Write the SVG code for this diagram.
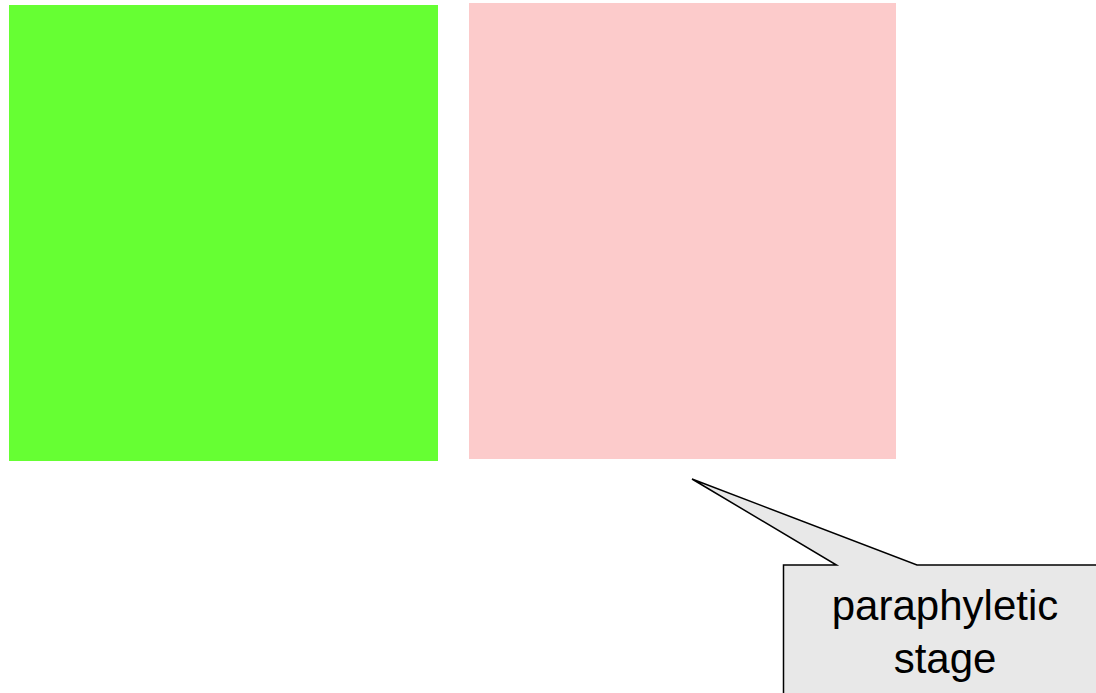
<svg xmlns="http://www.w3.org/2000/svg" width="1096" height="693" viewBox="0 0 1096 693">
<style>
.lbl{font-family:"Liberation Sans",Arial,sans-serif;font-size:42px;fill:#000;text-anchor:middle}
</style>
<rect width="1096" height="693" fill="#fff"/>
<g id="green"><rect x="9" y="5" width="429" height="456" fill="#66ff33"/></g>
<g id="pink"><rect x="469" y="3" width="427" height="456" fill="#fccbcb"/></g>
<g id="callout">
<path d="M783.5,565 L836.5,565 L692,479 L917,565 L1110,565 L1110,700 L783.5,700 Z" fill="#e8e8e8" stroke="#000" stroke-width="1.5" stroke-linejoin="miter"/>
<text class="lbl" x="945" y="620">paraphyletic</text>
<text class="lbl" x="945" y="673">stage</text>
</g>
</svg>
